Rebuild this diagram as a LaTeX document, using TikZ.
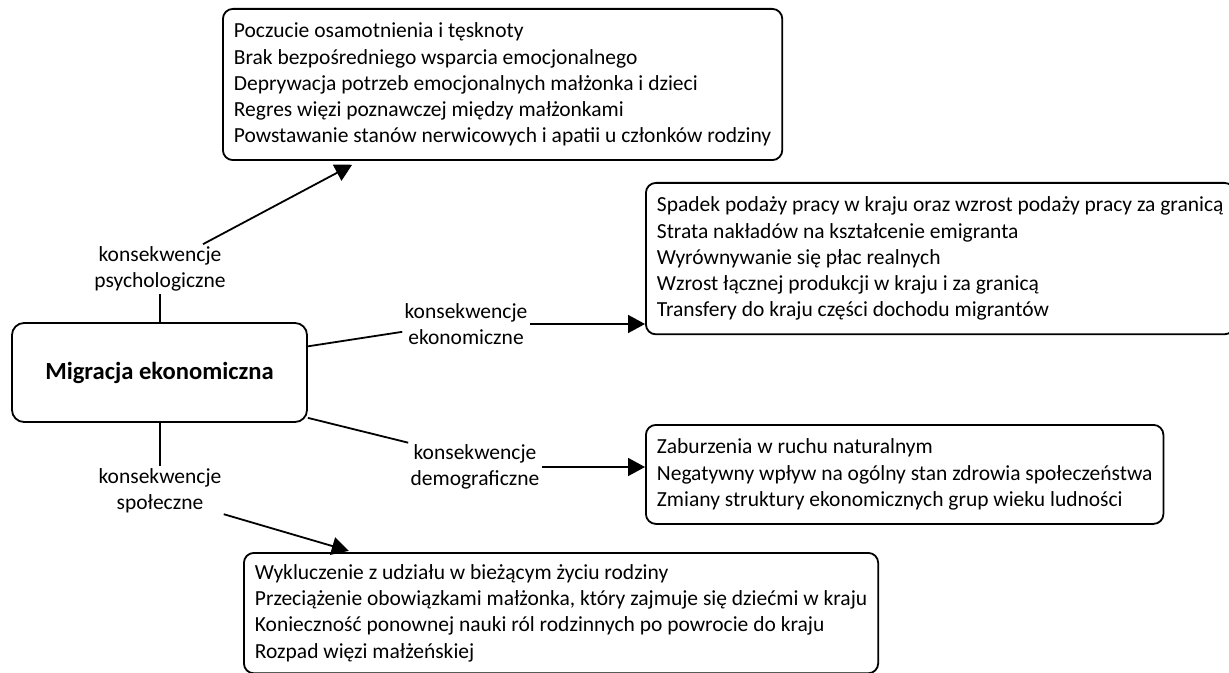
\documentclass[tikz,border=0pt]{standalone}
\usepackage{fontspec}
\setmainfont{Carlito}
\usetikzlibrary{arrows.meta, positioning, calc}

\begin{document}
\begin{tikzpicture}[
    x=0.5pt, y=-0.5pt,
    font=\fontsize{10.75}{13.1}\selectfont,
    central/.style={
        rectangle,
        minimum width=147.5pt,
        minimum height=49.5pt,
        draw=black,
        line width=0.9pt,
        rounded corners=6pt,
        font=\fontsize{12.3}{14}\selectfont\bfseries
    },
    effect/.style={
        rectangle,
        anchor=north west,
        align=left,
        inner xsep=5.5pt,
        inner ysep=7pt,
        draw=black,
        line width=0.9pt,
        rounded corners=5pt
    },
    kind/.style={align=center, inner sep=1pt},
    link/.style={line width=0.9pt},
    arrow/.style={line width=0.9pt, -{Triangle[length=8.5pt, width=9pt]}}
]

    \useasboundingbox (0,0) rectangle (1229,673);

    \node (main) [central] at (159.5,372.5) {Migracja ekonomiczna};

    % rodzaje konsekwencji
    \node (psy) [kind] at (160,269) {konsekwencje\\psychologiczne};
    \node (eco) [kind] at (466,324) {konsekwencje\\ekonomiczne};
    \node (dem) [kind] at (475,467) {konsekwencje\\demograficzne};
    \node (soc) [kind] at (160,491) {konsekwencje\\społeczne};

    % skutki
    \node (psybox) [effect] at (222,8) {Poczucie osamotnienia i tęsknoty\\Brak bezpośredniego wsparcia emocjonalnego\\Deprywacja potrzeb emocjonalnych małżonka i dzieci\\Regres więzi poznawczej między małżonkami\\Powstawanie stanów nerwicowych i apatii u członków rodziny};
    \node (ecobox) [effect] at (645,182) {Spadek podaży pracy w kraju oraz wzrost podaży pracy za granicą\\Strata nakładów na kształcenie emigranta\\Wyrównywanie się płac realnych\\Wzrost łącznej produkcji w kraju i za granicą\\Transfery do kraju części dochodu migrantów};
    \node (dembox) [effect] at (645,424) {Zaburzenia w ruchu naturalnym\\Negatywny wpływ na ogólny stan zdrowia społeczeństwa\\Zmiany struktury ekonomicznych grup wieku ludności};
    \node (socbox) [effect, inner ysep=5.8pt] at (243,552) {Wykluczenie z udziału w bieżącym życiu rodziny\\Przeciążenie obowiązkami małżonka, który zajmuje się dziećmi w kraju\\Konieczność ponownej nauki ról rodzinnych po powrocie do kraju\\Rozpad więzi małżeńskiej};

    \draw [link] (main.north -| psy) -- (psy.south);
    \draw [arrow, shorten >=4pt] (psy.30) -- (psybox);

    \draw [link] (main.10) -- (eco.187);
    \draw [arrow] (eco.east) -- (eco.east -| ecobox.west);

    \draw [link] (main.-17) -- (dem.160);
    \draw [arrow] (dem.east) -- (dem.east -| dembox.west);

    \draw [link] (main.south -| soc) -- (soc.north);
    \draw [arrow, shorten >=2pt] (soc.-20) -- (socbox);

\end{tikzpicture}
\end{document}
